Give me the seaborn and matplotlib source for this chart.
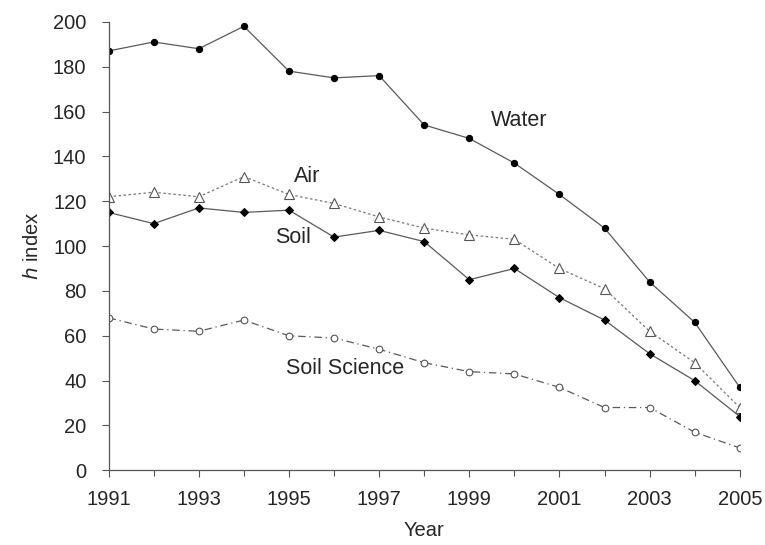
import numpy as np
import pandas as pd
import matplotlib
matplotlib.use("Agg")
import matplotlib.pyplot as plt
import seaborn as sns

years = list(range(1991, 2006))
water = [187, 191, 188, 198, 178, 175, 176, 154, 148, 137, 123, 108, 84, 66, 37]
air = [122, 124, 122, 131, 123, 119, 113, 108, 105, 103, 90, 81, 62, 48, 28]
soil = [115, 110, 117, 115, 116, 104, 107, 102, 85, 90, 77, 67, 52, 40, 24]
soil_science = [68, 63, 62, 67, 60, 59, 54, 48, 44, 43, 37, 28, 28, 17, 10]

sns.set_style("ticks")
plt.rcParams["font.family"] = ["Liberation Sans", "DejaVu Sans"]
plt.rcParams["font.size"] = 14.5

fig = plt.figure(figsize=(7.65, 5.45), dpi=100)
ax = fig.add_axes([0.142, 0.137, 0.825, 0.823])

df = pd.DataFrame({"Year": years, "Water": water, "Air": air,
                   "Soil": soil, "Soil Science": soil_science})

line_col = "#5a5a5a"
sns.lineplot(data=df, x="Year", y="Water", ax=ax, color=line_col, lw=0.9,
             marker="o", ms=4.5, mfc="black", mec="black")
sns.lineplot(data=df, x="Year", y="Air", ax=ax, color="#777777", lw=0.9,
             linestyle=(0, (2, 2)), marker="^", ms=6.5, mfc="white", mec="#555555", mew=0.8)
sns.lineplot(data=df, x="Year", y="Soil", ax=ax, color=line_col, lw=0.9,
             marker="D", ms=4.2, mfc="black", mec="black")
sns.lineplot(data=df, x="Year", y="Soil Science", ax=ax, color=line_col, lw=0.9,
             linestyle=(0, (6, 3, 1, 3)), marker="o", ms=4.8, mfc="white", mec="#555555", mew=0.8)

ax.text(2000.1, 156, "Water", ha="center", va="center", fontsize=15.5)
ax.text(1995.4, 131, "Air", ha="center", va="center", fontsize=15.5)
ax.text(1995.1, 104, "Soil", ha="center", va="center", fontsize=15.5)
ax.text(1996.25, 45.5, "Soil Science", ha="center", va="center", fontsize=15.5)

ax.set_xlim(1991, 2005)
ax.set_ylim(0, 200)
ax.set_xticks(range(1991, 2006, 2))
ax.set_xticks(range(1991, 2006), minor=True)
ax.set_yticks(range(0, 201, 20))
ax.tick_params(axis="both", which="both", direction="out", length=5, width=0.8,
               color="#555555", labelsize=14.5)
ax.tick_params(axis="y", pad=11)
ax.tick_params(axis="x", which="major", pad=9)
ax.tick_params(axis="x", which="minor", length=4)
for s in ["left", "bottom"]:
    ax.spines[s].set_color("#555555")
    ax.spines[s].set_linewidth(0.9)
sns.despine(ax=ax)
ax.set_xlabel("Year", fontsize=14.5, labelpad=9)
ax.set_ylabel("$\\it{h}$ index", fontsize=14.5, labelpad=8)

fig.savefig("out.png", dpi=100)
